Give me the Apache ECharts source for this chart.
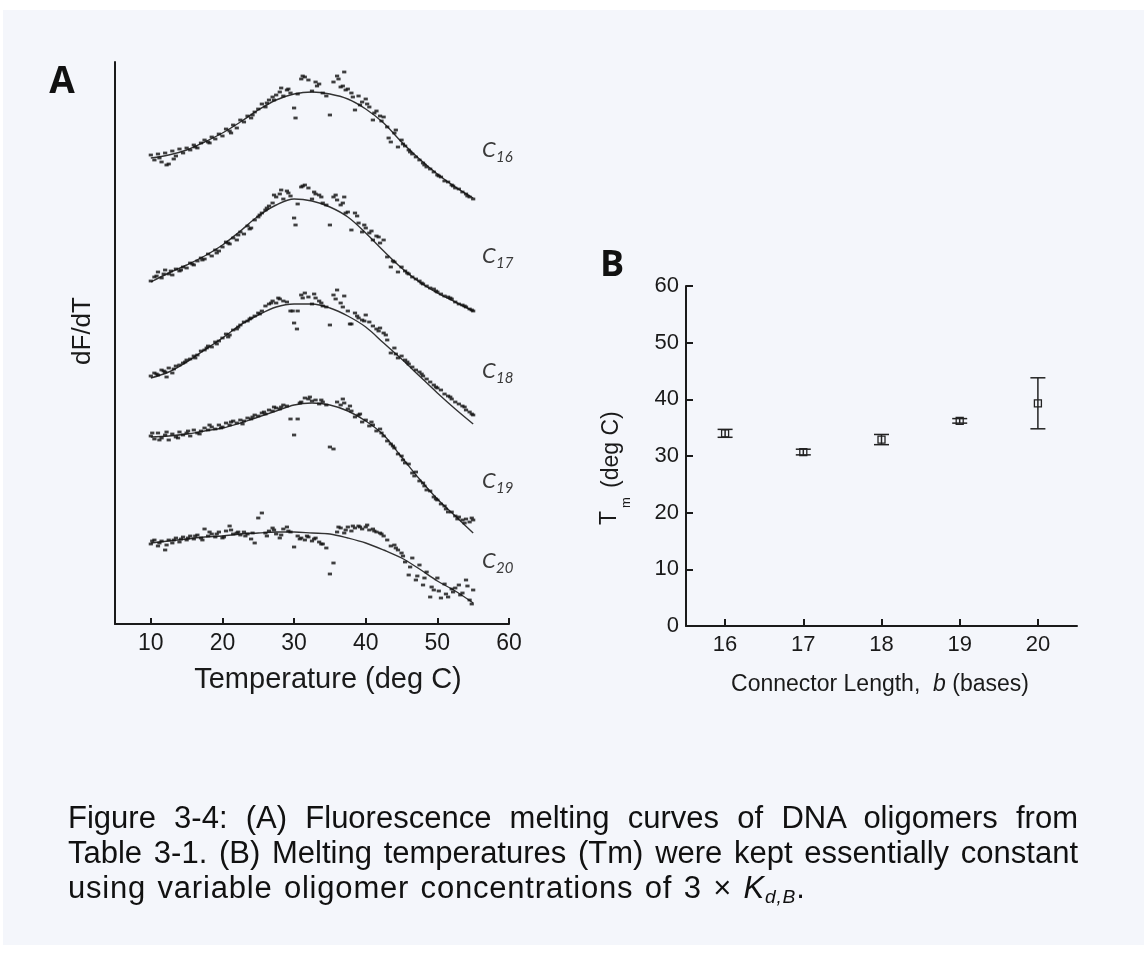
<!DOCTYPE html>
<html><head><meta charset="utf-8">
<script src="https://cdn.jsdelivr.net/npm/echarts@6/dist/echarts.min.js"></script>
<style>
html,body{margin:0;padding:0;background:#fff;width:1144px;height:955px;overflow:hidden}
#panel{position:absolute;left:3px;top:10px;width:1141px;height:935px;background:#f4f6fb}
#chart{position:absolute;left:0;top:0;width:1144px;height:955px}
.cap{position:absolute;left:68px;width:1010px;font-family:'Liberation Sans',Arial,sans-serif;font-size:31px;line-height:35px;color:#111;white-space:nowrap}
.j{text-align:justify;text-align-last:justify;white-space:normal}
.l3{letter-spacing:0.8px;word-spacing:2px}
.cap sub{font-size:0.62em;line-height:0;vertical-align:-0.25em}
</style></head>
<body>
<div id="panel"></div>
<div id="chart"></div>
<div class="cap j" style="top:800px">Figure 3-4: (A) Fluorescence melting curves of DNA oligomers from</div>
<div class="cap j" style="top:835px">Table 3-1. (B) Melting temperatures (Tm) were kept essentially constant</div>
<div class="cap l3" style="top:870px">using variable oligomer concentrations of 3 × <i>K<sub>d,B</sub></i>.</div>
<script>
// ---------- Panel A data ----------
const aTicks = [10, 20, 30, 40, 50, 60];
const curveNames = ['16', '17', '18', '19', '20'];
const temps = [10,10.5,11,11.5,12,12.5,13,13.5,14,14.5,15,15.5,16,16.5,17,17.5,18,18.5,19,19.5,
  20,20.5,21,21.5,22,22.5,23,23.5,24,24.5,25,25.5,26,26.5,27,27.5,28,28.5,29,29.5,
  30,30.5,31,31.5,32,32.5,33,33.5,34,34.5,35,35.5,36,36.5,37,37.5,38,38.5,39,39.5,
  40,40.5,41,41.5,42,42.5,43,43.5,44,44.5,45,45.5,46,46.5,47,47.5,48,48.5,49,49.5,
  50,50.5,51,51.5,52,52.5,53,53.5,54,54.5,55];
const dotsC16 = [469,464,470,462,471,460,473,468,475,471,476,474,479,476,481,484,482,487,485,490,
  488,495,493,499,496,504,502,508,506,512,515,520,517,524,527,529,532,528,534,531,
  516,530,545,547,544,533,542,540,531,528,509,542,548,537,552,535,531,514,528,522,
  525,517,504,513,508,507,497,482,491,477,484,478,474,470,467,464,461,457,455,452,
  449,447,443,442,439,436,435,432,430,427,425];
const dotsC17 = [343,347,352,346,354,350,349,355,353,357,356,361,359,363,366,365,370,368,374,373,
  377,382,380,386,384,392,390,398,396,404,407,411,414,418,421,427,430,425,433,428,
  406,420,437,439,436,425,430,429,421,419,399,427,424,419,427,412,394,411,401,392,
  396,391,384,388,381,384,367,357,362,352,357,353,350,347,345,343,340,338,336,335,
  332,330,328,327,325,322,320,319,317,315,313];
const dotsC18 = [248,251,249,254,252,256,251,258,259,261,264,265,268,269,273,274,278,277,282,283,
  286,290,289,294,295,299,302,303,306,308,311,313,318,320,323,321,325,323,322,313,
  301,313,329,331,327,320,326,323,318,317,299,329,334,321,328,313,300,311,306,304,
  309,302,298,295,296,291,284,271,276,266,268,264,260,257,254,252,248,245,242,239,
  236,234,230,228,225,222,220,218,214,212,209];
const dotsC19 = [188,185,191,186,189,184,190,187,192,189,191,188,194,191,193,196,194,197,195,199,
  197,201,199,203,201,204,203,206,205,209,208,211,210,214,213,216,215,219,218,205,
  189,205,222,226,225,223,224,220,222,219,177,175,222,219,221,215,213,207,209,202,
  204,198,199,193,195,188,183,180,176,170,168,161,160,151,152,143,141,134,133,127,
  124,120,118,112,112,108,107,104,105,102,104];
const dotsC20 = [80,84,78,83,74,84,81,86,82,87,84,88,85,89,86,95,88,90,87,92,
  86,93,98,90,91,89,92,90,85,81,106,111,91,93,96,90,86,95,97,92,
  77,88,86,84,87,83,86,82,80,76,50,61,92,96,91,97,93,96,98,95,
  97,94,95,92,91,88,84,78,79,74,71,62,49,66,44,59,39,52,27,34,
  46,26,40,27,35,36,39,31,44,24,34];
const extraC16 = [[11.2,466],[12.2,459],[13.2,465],[16.2,477],[18.2,481],[21.2,491],[24.2,509],[26.2,521],[27.2,524],[28.2,536],[29.2,535],[30.2,506],[31.2,548],[33.2,538],[36.2,545],[36.8,538],[37.2,534],[38.2,527],[39.2,519],[40.2,520],[41.2,511],[42.2,503],[43.2,486],[44.2,494],[45.2,480],[46.2,472],[48.2,459],[50.2,448],[52.2,438],[54.2,428]];
const extraC17 = [[10.8,348],[11.8,350],[12.8,353],[14.2,354],[15.8,360],[17.2,364],[19.2,371],[20.8,381],[22.2,389],[23.8,395],[25.2,409],[26.2,416],[27.2,429],[28.2,434],[29.2,431],[30.2,399],[31.2,438],[32.8,432],[33.8,427],[35.8,429],[36.8,421],[37.2,411],[38.8,408],[39.8,399],[40.8,393],[41.8,387],[43.8,363],[45.8,351],[47.8,341],[49.8,333],[51.8,326],[53.8,318],[54.8,314]];
const extraC18 = [[10.8,250],[11.8,253],[12.2,247],[13.2,255],[14.8,262],[16.2,266],[17.8,276],[19.2,280],[20.8,287],[22.2,297],[23.8,305],[25.2,310],[26.8,321],[27.8,326],[29.8,313],[30.4,295],[31.2,326],[32.8,330],[33.8,321],[35.8,325],[36.8,317],[37.8,300],[38.8,308],[39.8,303],[41.8,293],[42.8,289],[44.2,270],[45.8,262],[47.8,250],[49.8,237],[51.8,227],[53.8,217],[54.8,210]];
const extraC19 = [[10.2,191],[11.2,184],[12.2,192],[13.8,186],[15.2,193],[16.8,190],[18.2,199],[19.8,196],[21.2,202],[22.8,200],[24.2,207],[25.8,212],[27.2,217],[28.2,217],[30.8,221],[32.2,227],[33.8,224],[36.8,225],[37.8,218],[39.2,210],[40.8,202],[42.2,191],[43.8,178],[45.2,164],[46.8,148],[48.2,138],[49.8,125],[51.2,115],[52.8,105],[53.8,101],[54.8,106]];
const extraC20 = [[10.2,83],[11.2,81],[12.2,79],[13.2,84],[14.2,85],[15.2,86],[16.2,88],[17.2,84],[18.2,92],[19.2,90],[20.2,87],[21.2,94],[22.2,92],[23.2,88],[24.2,91],[26.2,88],[27.2,94],[28.2,89],[29.2,93],[30.8,85],[31.8,88],[32.8,85],[33.8,80],[36.2,97],[37.2,94],[38.2,98],[39.2,97],[40.2,99],[41.2,93],[42.2,90],[44.2,76],[45.2,68],[46.2,57],[47.2,48],[48.2,46],[49.2,37],[50.2,33],[51.2,30],[52.2,32],[53.2,29],[54.2,38],[54.8,20]];
const fitTemps = [10,12.5,15,17.5,20,22.5,25,27.5,30,32.5,35,37.5,40,42.5,45,47.5,50,52.5,55];
const fitC16 = [466,469,474,482,491,502,514,524,530,532,530,525,515,501,482,465,450,437,426];
const fitC17 = [342,351,359,368,379,393,408,419,425,423,417,407,391,373,356,342,331,322,313];
const fitC18 = [246,252,262,274,286,299,309,317,320,320,316,308,297,281,265,248,231,215,200];
const fitC19 = [187,188,190,193,196,201,207,213,219,221,219,213,203,189,167,145,125,108,91];
const fitC20 = [81,83,85,87,88,90,91,92,92,91,90,86,81,74,66,55,43,33,21];

// ---------- Panel B data ----------
const connectorLengths = [16, 17, 18, 19, 20];
const tmValues = [34.0, 30.7, 32.9, 36.2, 39.3];
const tmErrors = [0.7, 0.5, 0.9, 0.4, 4.5];
const bYTicks = [0, 10, 20, 30, 40, 50, 60];

const allDots = [dotsC16, dotsC17, dotsC18, dotsC19, dotsC20];
const allExtras = [extraC16, extraC17, extraC18, extraC19, extraC20];
const allFits = [fitC16, fitC17, fitC18, fitC19, fitC20];

const axisColor = '#1a1a1a';
const series = [];
allFits.forEach((fit, i) => {
  series.push({
    type: 'line', xAxisIndex: 0, yAxisIndex: 0, smooth: 0.35, showSymbol: false, silent: true,
    data: fitTemps.map((t, k) => [t, fit[k]]),
    lineStyle: { color: '#333', width: 1.4 }, z: 2
  });
  series.push({
    type: 'scatter', xAxisIndex: 0, yAxisIndex: 0, silent: true,
    symbol: 'rect', symbolSize: [4.2, 2.8],
    data: temps.map((t, k) => [t, allDots[i][k]]).concat(allExtras[i]),
    itemStyle: { color: '#111' }, z: 3
  });
});
series.push({
  type: 'custom', xAxisIndex: 1, yAxisIndex: 1, silent: true,
  data: connectorLengths.map((l, i) => [l, tmValues[i], tmErrors[i]]),
  encode: { x: 0, y: 1 },
  renderItem: function (params, api) {
    const x = api.value(0), y = api.value(1), e = api.value(2);
    const p = api.coord([x, y]), t = api.coord([x, y + e]), b = api.coord([x, y - e]);
    const cw = 7.5, s = 3.5;
    const st = { stroke: '#222', lineWidth: 1.5, fill: null };
    return { type: 'group', children: [
      { type: 'line', shape: { x1: p[0], y1: t[1], x2: p[0], y2: b[1] }, style: st },
      { type: 'line', shape: { x1: p[0] - cw, y1: t[1], x2: p[0] + cw, y2: t[1] }, style: st },
      { type: 'line', shape: { x1: p[0] - cw, y1: b[1], x2: p[0] + cw, y2: b[1] }, style: st },
      { type: 'rect', shape: { x: p[0] - s, y: p[1] - s, width: 2 * s, height: 2 * s }, style: { stroke: '#222', lineWidth: 1.3, fill: 'none' } }
    ] };
  }
});

const labelFont = 'Liberation Sans';
const cLabelY = [150, 256, 371, 481, 561];
const graphics = [
  { type: 'text', x: 62, y: 82, style: { text: 'A', font: 'bold 37px "Open Sans"', fill: '#111', align: 'center', verticalAlign: 'middle' } },
  { type: 'text', x: 612, y: 266, style: { text: 'B', font: 'bold 36px "Open Sans"', fill: '#111', align: 'center', verticalAlign: 'middle' } },
  { type: 'text', x: 83, y: 331, rotation: Math.PI / 2, style: { text: 'dF/dT', font: '26px "Liberation Sans"', fill: axisColor, align: 'center', verticalAlign: 'middle' } },
  { type: 'text', x: 328, y: 680, style: { text: 'Temperature (deg C)', font: '29px "Liberation Sans"', fill: axisColor, align: 'center', verticalAlign: 'middle' } },
  { type: 'text', x: 880, y: 685, style: {
      text: '{n|Connector Length,  }{i|b}{n| (bases)}', align: 'center', verticalAlign: 'middle',
      rich: { n: { font: '23px "Liberation Sans"', fill: axisColor }, i: { font: 'italic 23px "Liberation Sans"', fill: axisColor } } } },
  { type: 'text', x: 610, y: 525, rotation: Math.PI / 2, style: { text: 'T', font: '23px "Liberation Sans"', fill: axisColor, align: 'left', verticalAlign: 'middle' } },
  { type: 'text', x: 626, y: 508, rotation: Math.PI / 2, style: { text: 'm', font: '13px "Liberation Sans"', fill: axisColor, align: 'left', verticalAlign: 'middle' } },
  { type: 'text', x: 612, y: 488, rotation: Math.PI / 2, style: { text: '(deg C)', font: '23px "Liberation Sans"', fill: axisColor, align: 'left', verticalAlign: 'middle' } }
];
curveNames.forEach((n, i) => {
  graphics.push({ type: 'text', x: 482, y: cLabelY[i], style: { text: 'C', font: 'italic 22px Lato', fill: '#3a3a3a', align: 'left', verticalAlign: 'middle' } });
  graphics.push({ type: 'text', x: 496, y: cLabelY[i] + 7, style: { text: n, font: 'italic 15px Lato', fill: '#3a3a3a', align: 'left', verticalAlign: 'middle' } });
});

const chart = echarts.init(document.getElementById('chart'), null, { renderer: 'canvas' });
chart.setOption({
  backgroundColor: 'transparent',
  animation: false,
  grid: [
    { left: 115, top: 62, width: 394, height: 562 },
    { left: 686, top: 286, width: 391, height: 340 }
  ],
  xAxis: [
    { type: 'value', gridIndex: 0, min: 5, max: 60,
      axisLine: { lineStyle: { color: axisColor, width: 2 } },
      axisTick: { inside: true, length: 6, customValues: aTicks, lineStyle: { color: axisColor, width: 2 } },
      axisLabel: { customValues: aTicks, fontSize: 23, fontFamily: labelFont, color: axisColor, margin: 8 },
      splitLine: { show: false } },
    { type: 'value', gridIndex: 1, min: 15.5, max: 20.5,
      axisLine: { lineStyle: { color: axisColor, width: 2 } },
      axisTick: { inside: true, length: 7, customValues: connectorLengths, lineStyle: { color: axisColor, width: 2 } },
      axisLabel: { customValues: connectorLengths, fontSize: 22, fontFamily: labelFont, color: axisColor, margin: 8 },
      splitLine: { show: false } }
  ],
  yAxis: [
    { type: 'value', gridIndex: 0, min: 0, max: 562,
      axisLine: { show: true, lineStyle: { color: axisColor, width: 2 } },
      axisTick: { show: false }, axisLabel: { show: false }, splitLine: { show: false } },
    { type: 'value', gridIndex: 1, min: 0, max: 60, interval: 10,
      axisLine: { show: true, lineStyle: { color: axisColor, width: 2 } },
      axisTick: { inside: true, length: 7, lineStyle: { color: axisColor, width: 2 } },
      axisLabel: { fontSize: 22, fontFamily: labelFont, color: axisColor, margin: 7,
        formatter: v => bYTicks.includes(v) ? String(v) : '' },
      splitLine: { show: false } }
  ],
  graphic: graphics,
  series: series
});
</script>
</body></html>
